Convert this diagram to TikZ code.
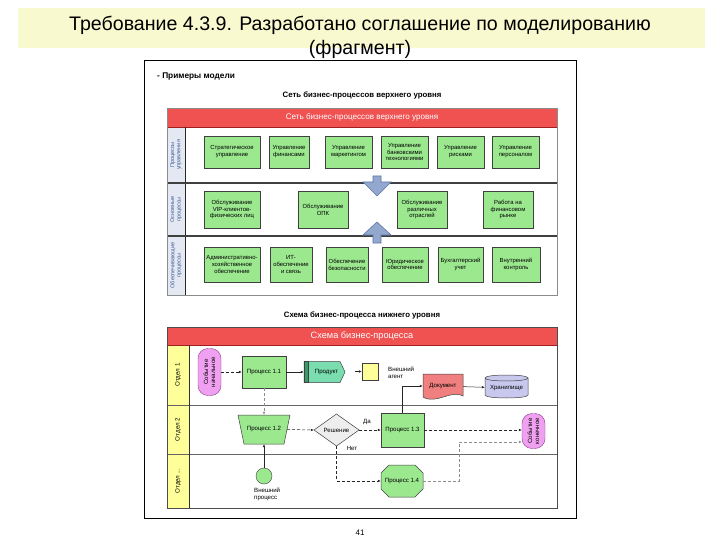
\documentclass[tikz,border=0pt]{standalone}
\usepackage{fontspec}
\setmainfont{Liberation Sans}
\usetikzlibrary{arrows.meta,shapes.geometric,calc}
\definecolor{titleband}{HTML}{F9F9D0}
\definecolor{boxgreen}{HTML}{9BE88F}
\definecolor{hdrred}{HTML}{F05252}
\definecolor{hdrdark}{HTML}{A02020}
\definecolor{leftcol}{HTML}{E4E8F2}
\definecolor{lblue}{HTML}{3A5A95}
\definecolor{laneyellow}{HTML}{FFFF99}
\definecolor{evviolet}{HTML}{F0A0F0}
\definecolor{evborder}{HTML}{8A3A8A}
\definecolor{prodgreen}{HTML}{7ADDB0}
\definecolor{prodband}{HTML}{3A9A6A}
\definecolor{docred}{HTML}{F08080}
\definecolor{cylfill}{HTML}{C8C8EE}
\definecolor{barrow}{HTML}{93A8CF}
\definecolor{barrowline}{HTML}{5F76A5}
\definecolor{decgrey}{HTML}{EEEEEE}
\newcommand\bxfnt{\fontsize{5.9}{6.9}\selectfont}
\newcommand\smfnt{\fontsize{6.1}{7}\selectfont}
\newcommand\lbfnt{\fontsize{5.5}{6.3}\selectfont}
\begin{document}
\begin{tikzpicture}[x=1pt,y=-1pt,
  pbox/.style={draw=black!75, fill=boxgreen, align=center, inner sep=0pt, font=\bxfnt},
  ghost/.style={inner sep=0pt, align=center, font=\smfnt},
  rowlbl/.style={rotate=90, align=center, font=\lbfnt, text=lblue},
  lanelbl/.style={rotate=90, align=center, font=\fontsize{6.2}{7}\selectfont},
  evt/.style={draw=evborder, fill=evviolet, rounded corners=10pt, inner sep=0pt, align=center},
  conn/.style={draw=black!85, line width=0.5pt, -{Latex[length=3pt,width=2.6pt]}},
  dconn/.style={conn, dash pattern=on 3pt off 2pt},
  gconn/.style={conn, draw=black!45, dash pattern=on 3pt off 2pt},
  hdrtxt/.style={text=white, inner sep=0pt},
  bar/.style={fill=barrow, draw=barrowline, line width=0.6pt}
]
\useasboundingbox (0,0) rectangle (720,540);
\fill[white] (0,0) rectangle (720,540);

% title
\fill[titleband] (18,8) rectangle (705,48);
\node[font=\fontsize{19.6}{23}\selectfont, inner sep=0pt] (title) at (360,25) {Требование 4.3.9. Разработано соглашение по моделированию};
\node[font=\fontsize{19.6}{23}\selectfont, inner sep=0pt] (title2) at (360,49) {(фрагмент)};

% page frame
\draw[line width=1pt] (144,61) rectangle (576,518);
\node[font=\fontsize{8}{9}\selectfont] (pnum) at (360,533) {41};

\node[font=\fontsize{8.3}{9.5}\selectfont\bfseries, anchor=west, inner sep=0pt] (ex) at (157,77) {- Примеры модели};
\node[font=\fontsize{7.8}{9}\selectfont\bfseries, inner sep=0pt] (t1) at (362,95) {Сеть бизнес-процессов верхнего уровня};

% ===== top diagram =====
\fill[white] (167,108) rectangle (557,295);
\fill[leftcol] (167,127) rectangle (185,295);
\fill[hdrred] (167,108) rectangle (557,127);
\draw[hdrdark, line width=0.8pt] (167,127) -- (557,127);
\node[hdrtxt, font=\fontsize{8.1}{9}\selectfont] (h1) at (362,117.5) {Сеть бизнес-процессов верхнего уровня};
\draw[black!85, line width=0.8pt] (185,127) -- (185,295);
\draw[black!75, line width=1.4pt] (167,183) -- (557,183);
\draw[black!75, line width=1.4pt] (167,236) -- (557,236);
\draw[black!45, line width=0.5pt] (167,108) rectangle (557,295);
\node[rowlbl] (r1) at (176,155) {Процессы\\управления};
\node[rowlbl] (r2) at (176,209.5) {Основные\\процессы};
\node[rowlbl] (r3) at (176,265.5) {Обеспечивающие\\процессы};

% row 1
\node[pbox, minimum width=56, minimum height=32] (a1) at (232,152) {Стратегическое\\управление};
\node[pbox, minimum width=40, minimum height=32] (a2) at (289,152) {Управление\\финансами};
\node[pbox, minimum width=47, minimum height=32] (a3) at (348.5,152) {Управление\\маркетингом};
\node[pbox, minimum width=47, minimum height=32] (a4) at (404.5,152) {Управление\\банковскими\\технологиями};
\node[pbox, minimum width=47, minimum height=32] (a5) at (460.5,152) {Управление\\рисками};
\node[pbox, minimum width=47, minimum height=32] (a6) at (515.5,152) {Управление\\персоналом};

% row 2
\node[pbox, minimum width=56, minimum height=37] (b1) at (232,209.5) {Обслуживание\\VIP-клиентов-\\физических лиц};
\node[pbox, minimum width=50, minimum height=37] (b2) at (323,209.5) {Обслуживание\\ОПК};
\node[pbox, minimum width=50, minimum height=37] (b3) at (422,209.5) {Обслуживание\\различных\\отраслей};
\node[pbox, minimum width=50, minimum height=37] (b4) at (508,209.5) {Работа на\\финансовом\\рынке};

% row 3
\node[pbox, minimum width=56, minimum height=35] (c1) at (232,264.5) {Административно-\\хозяйственное\\обеспечение};
\node[pbox, minimum width=42, minimum height=35] (c2) at (291,264.5) {ИТ-\\обеспечение\\и связь};
\node[pbox, minimum width=42, minimum height=35] (c3) at (347,264.5) {Обеспечение\\безопасности};
\node[pbox, minimum width=46, minimum height=35] (c4) at (405,264.5) {Юридическое\\обеспечение};
\node[pbox, minimum width=45, minimum height=35] (c5) at (460.5,264.5) {Бухгалтерский\\учет};
\node[pbox, minimum width=48, minimum height=35] (c6) at (516,264.5) {Внутренний\\контроль};

% block arrows
\path[bar] (373,176) -- (381,176) -- (381,182) -- (391,182) -- (377,196) -- (363,182) -- (373,182) -- cycle;
\path[bar] (373,243) -- (381,243) -- (381,235) -- (391,235) -- (377,222) -- (363,235) -- (373,235) -- cycle;

% ===== bottom diagram =====
\node[font=\fontsize{7.8}{9}\selectfont\bfseries, inner sep=0pt] (t2) at (362,315) {Схема бизнес-процесса нижнего уровня};
\fill[white] (167,327) rectangle (557,508);
\fill[laneyellow] (167,345) rectangle (189,508);
\fill[hdrred] (167,327) rectangle (557,345);
\draw[hdrdark, line width=0.8pt] (167,345) -- (557,345);
\node[hdrtxt, font=\fontsize{9.2}{10}\selectfont] (h2) at (362,336) {Схема бизнес-процесса};
\draw[black!60, line width=0.5pt] (167,405) -- (557,405);
\draw[black!60, line width=0.5pt] (167,454) -- (557,454);
\draw[black!80, line width=0.6pt] (189,345) -- (189,508);
\draw[black!70, line width=0.6pt] (167,327) rectangle (557,508);
\node[lanelbl] (l1) at (178,375) {Отдел 1};
\node[lanelbl] (l2) at (178,429.5) {Отдел 2};
\node[lanelbl] (l3) at (178,481) {Отдел ...};

% lane 1
\node[evt, minimum width=47, minimum height=23, rotate=90, font=\smfnt] (ev1) at (209.5,372) {Событие\\начальное};
\node[pbox, font=\smfnt, minimum width=44, minimum height=32] (p11) at (264,372) {Процесс 1.1};
\path[fill=prodgreen, draw=black!75, line width=0.5pt] (304,361.5) -- (340,361.5) -- (345,372) -- (340,382.5) -- (304,382.5) -- cycle;
\path[fill=prodband, draw=black!75, line width=0.5pt] (304,361.5) rectangle (308,382.5);
\node[ghost, minimum width=41, minimum height=21] (prod) at (324.5,372) {\hspace{4pt}Продукт};
\node[draw=black!75, fill=laneyellow, minimum width=16, minimum height=17, inner sep=0pt] (ysq) at (370,371.5) {};
\coordinate (ya) at (355,371.5);
\node[font=\smfnt, anchor=west, align=left, inner sep=0pt] (agent) at (388,372.5) {Внешний\\агент};
\path[fill=docred, draw=black!75, line width=0.5pt] (423,374) -- (463,374) -- (463,396) .. controls (452,389) and (436,405) .. (423,397) -- cycle;
\node[ghost, minimum width=40, minimum height=26] (doc) at (443,386) {Документ};
\path[fill=cylfill, draw=black!75, line width=0.5pt] (485,378) -- (485,395) .. controls (485,399) and (528,399) .. (528,395) -- (528,378) .. controls (528,374) and (485,374) .. (485,378) -- cycle;
\draw[black!75, line width=0.5pt] (485,378) .. controls (485,382) and (528,382) .. (528,378);
\node[ghost, minimum width=43, minimum height=23] (cyl) at (506.5,388) {Хранилище};

% lane 2
\path[fill=boxgreen, draw=black!75, line width=0.5pt] (238,415) -- (290,415) -- (284,444) -- (244,444) -- cycle;
\node[ghost, minimum width=46, minimum height=29] (p12) at (264,429.5) {Процесс 1.2};
\path[fill=decgrey, draw=black!75, line width=0.5pt] (314,430) -- (336.5,414) -- (359,430) -- (336.5,446) -- cycle;
\node[ghost, minimum width=45, minimum height=32] (dec) at (336.5,430) {Решение};
\node[pbox, font=\smfnt, minimum width=43, minimum height=34] (p13) at (402.5,430) {Процесс 1.3};
\node[evt, minimum width=35, minimum height=23, rotate=90, font=\smfnt] (ev2) at (533.5,431) {Событие\\конечное};
\node[font=\smfnt, inner sep=0pt] (yes) at (367,422) {Да};
\node[font=\smfnt, inner sep=0pt] (no) at (352,448) {Нет};

% lane 3
\node[circle, draw=black!75, fill=boxgreen, minimum size=16, inner sep=0pt] (circ) at (264,476) {};
\node[font=\smfnt, anchor=north west, align=left, inner sep=0pt] (circlbl) at (254,488) {Внешний\\процесс};
\path[fill=boxgreen, draw=black!75, line width=0.5pt] (389,465) -- (415,465) -- (423,473) -- (423,489) -- (415,497) -- (389,497) -- (381,489) -- (381,473) -- cycle;
\node[ghost, minimum width=42, minimum height=32] (p14) at (402,481) {Процесс 1.4};

% connectors
\draw[dconn] (ev1) -- (p11);
\draw[conn] (p11) -- (prod);
\draw[conn] (ya) -- (ysq);
\draw[conn] (doc) -- (cyl);
\draw[conn] (p13.north) |- (doc.west);
\draw[gconn] (p11.south) -- (p12.north);
\draw[conn] (circ.north) -- (p12.south);
\draw[dconn] (p12.east) -- (dec.west);
\draw[dconn] (dec.east) -- (p13.west);
\draw[dconn] (p13.east) -- (p13.east -| ev2.north);
\draw[dconn] (dec.south) |- (p14.west);
\draw[gconn] (p14.east) -- ++(36,0) |- ($(ev2.north)+(0,11)$);
\end{tikzpicture}
\end{document}
